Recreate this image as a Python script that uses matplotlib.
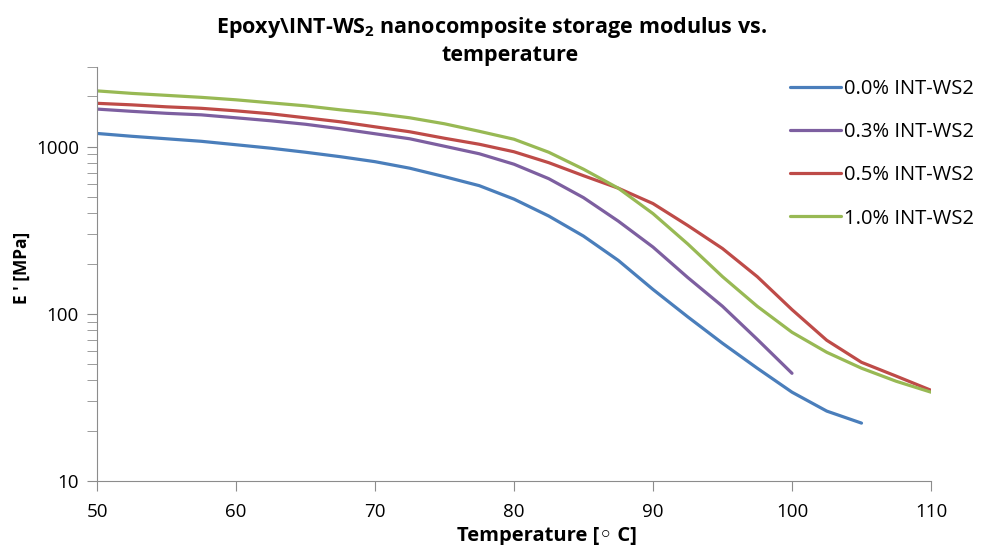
import matplotlib

matplotlib.use("Agg")
import matplotlib.pyplot as plt
from matplotlib.ticker import FixedLocator, LogLocator, NullFormatter

plt.rcParams["font.family"] = ["Open Sans", "DejaVu Sans"]
plt.rcParams["mathtext.fontset"] = "custom"
plt.rcParams["mathtext.rm"] = "Open Sans"
plt.rcParams["mathtext.bf"] = "Open Sans:bold"

# values (temperature in C, storage modulus E' in MPa)
temp_00 = [50, 52.5, 55, 57.5, 60, 62.5, 65, 67.5, 70, 72.5, 75, 77.5, 80, 82.5, 85,
           87.5, 90, 92.5, 95, 97.5, 100, 102.5, 105]
mod_00 = [1201, 1155, 1116, 1078, 1028, 980, 927, 872, 814, 744, 662, 585, 486, 385, 292,
          209, 140, 96, 66.7, 47.3, 34.0, 26.2, 22.2]

temp_03 = [50, 52.5, 55, 57.5, 60, 62.5, 65, 67.5, 70, 72.5, 75, 77.5, 80, 82.5, 85,
           87.5, 90, 92.5, 95, 97.5, 100]
mod_03 = [1680, 1629, 1585, 1552, 1490, 1430, 1363, 1281, 1196, 1116, 1007, 908, 786, 644, 496,
          359, 251, 165, 111, 70.4, 44.1]

temp_05 = [50, 52.5, 55, 57.5, 60, 62.5, 65, 67.5, 70, 72.5, 75, 77.5, 80, 82.5, 85,
           87.5, 90, 92.5, 95, 97.5, 100, 102.5, 105, 107.5, 110]
mod_05 = [1819, 1781, 1733, 1698, 1640, 1574, 1490, 1410, 1316, 1229, 1124, 1035, 933, 803, 671,
          565, 457, 338, 246, 167, 106, 69.5, 51.3, 42.4, 34.9]

temp_10 = [50, 52.5, 55, 57.5, 60, 62.5, 65, 67.5, 70, 72.5, 75, 77.5, 80, 82.5, 85,
           87.5, 90, 92.5, 95, 97.5, 100, 102.5, 105, 107.5, 110]
mod_10 = [2159, 2086, 2030, 1975, 1909, 1831, 1757, 1663, 1585, 1490, 1372, 1237, 1109, 927, 734,
          565, 398, 262, 167, 111, 77.6, 58.9, 47.3, 39.5, 34.0]

series = [
    ("0.0% INT-WS2", temp_00, mod_00, "#4a7ebb"),
    ("0.3% INT-WS2", temp_03, mod_03, "#7d5fa0"),
    ("0.5% INT-WS2", temp_05, mod_05, "#be4b48"),
    ("1.0% INT-WS2", temp_10, mod_10, "#98b954"),
]

fig = plt.figure(figsize=(9.87, 5.45), dpi=100)
ax = fig.add_axes([97 / 987, 1 - 481 / 545, 834 / 987, 414 / 545])

for label, temps, mods, color in series:
    ax.plot(temps, mods, color=color, linewidth=2.3, label=label,
            solid_capstyle="round", solid_joinstyle="round")

ax.set_yscale("log")
ax.set_xlim(50, 110)
ax.set_ylim(10, 3000)
ax.xaxis.set_major_locator(FixedLocator(range(50, 111, 10)))
ax.yaxis.set_major_locator(FixedLocator([10, 100, 1000]))
ax.yaxis.set_minor_locator(LogLocator(base=10, subs=range(2, 10)))
ax.yaxis.set_minor_formatter(NullFormatter())
ax.set_yticklabels(["10", "100", "1000"])

axis_grey = "#8c8c8c"
for side in ("top", "right"):
    ax.spines[side].set_visible(False)
for side in ("left", "bottom"):
    ax.spines[side].set_color(axis_grey)
ax.tick_params(axis="both", which="both", color=axis_grey, direction="out")
ax.tick_params(axis="both", which="major", length=7, labelsize=13.5, pad=6)
ax.tick_params(axis="y", which="minor", length=7)
ax.tick_params(axis="x", pad=9)

fig.text(491 / 987, 1 - 28 / 545, r"Epoxy\INT-WS$_\mathbf{2}$ nanocomposite storage modulus vs.",
         ha="center", va="center", fontsize=15.5, fontweight="bold")
fig.text(510 / 987, 1 - 56 / 545, "temperature",
         ha="center", va="center", fontsize=15.5, fontweight="bold")
fig.text(22 / 987, 1 - 268 / 545, "E ' [MPa]", rotation=90,
         ha="center", va="center", fontsize=12.5, fontweight="bold")
fig.text(547 / 987, 1 - 536 / 545, "Temperature [\u25e6 C]",
         ha="center", va="center", fontsize=14.5, fontweight="bold")

ax.legend(loc="upper left", bbox_to_anchor=(782 / 987, 1 - 71 / 545),
          bbox_transform=fig.transFigure, frameon=False, fontsize=14.5,
          handlelength=2.55, handletextpad=0.15, labelspacing=1.15, borderaxespad=0)

fig.savefig("out.png", dpi=100)
